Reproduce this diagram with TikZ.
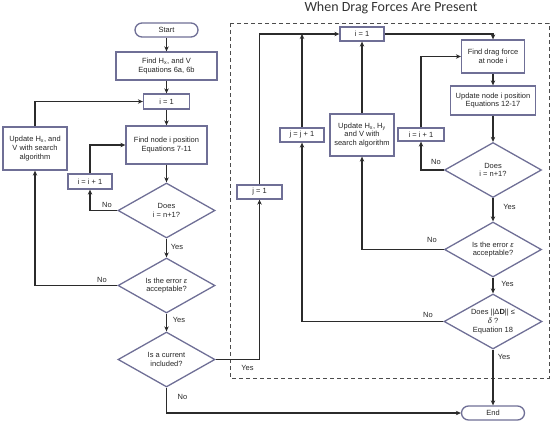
\documentclass[tikz,border=0pt]{standalone}
\usepackage{fontspec}
\setmainfont{Liberation Sans}
\newfontfamily\titlefont{Carlito}
\usetikzlibrary{shapes.geometric,arrows.meta}
\definecolor{boxc}{HTML}{6F6F96}
\definecolor{linec}{HTML}{2B2B2B}
\tikzset{
  x=1pt,y=-1pt,
  every node/.style={font=\fontsize{7.5}{8.8}\selectfont, text=black!85},
  procbox/.style={draw=boxc, line width=1.3pt, fill=white, inner sep=0pt, align=center},
  termbox/.style={draw=boxc, line width=1.3pt, fill=white, inner sep=0pt, rounded corners=7pt, minimum width=63pt, minimum height=14pt},
  dia/.style={draw=boxc, line width=1.3pt, diamond, inner sep=0pt, minimum width=97pt, minimum height=55pt},
  dtxt/.style={align=center, inner sep=0pt},
  conn/.style={draw=linec, line width=1.15pt, -{Stealth[length=5pt,width=4.5pt]}},
  lbl/.style={inner sep=0pt},
  groupbox/.style={draw=black!70, line width=0.9pt, dash pattern=on 4pt off 3pt}
}
\begin{document}
\begin{tikzpicture}
\useasboundingbox (0,0) rectangle (556,420);
% title
\node[font=\titlefont\fontsize{14}{16}\selectfont, text=black!80, anchor=base] (title) at (391,11.5) {When Drag Forces Are Present};
% dashed group
\draw[groupbox] (230,23) rectangle (549,378);

% left column
\node[termbox] (start) at (166.5,30) {Start};
\node[procbox, minimum width=101pt, minimum height=28pt] (findh) at (166.5,66) {Find H\textsubscript{x}, and V\\Equations 6a, 6b};
\node[procbox, minimum width=46pt, minimum height=15pt] (i1) at (166.5,101.5) {i = 1};
\node[procbox, minimum width=81pt, minimum height=38pt] (fnode) at (166.5,145) {Find node i position\\Equations 7-11};
\node[procbox, minimum width=64pt, minimum height=43pt] (updl) at (35,148.5) {Update H\textsubscript{x}, and\\V with search\\algorithm};
\node[procbox, minimum width=44pt, minimum height=15pt] (iil) at (90,181.5) {i = i + 1};
\node[dia] (d1) at (166.5,210.5) {};
\node[dtxt] at (d1) {Does\\i = n+1?};
\node[dia] (d2) at (166.5,285.5) {};
\node[dtxt] at (d2) {Is the error \textit{ε}\\acceptable?};
\node[dia] (d3) at (166.5,359.5) {};
\node[dtxt] at (d3) {Is a current\\included?};
\node[termbox] (end) at (493,413) {End};

% right part
\node[procbox, minimum width=45pt, minimum height=14pt] (j1) at (259.5,192) {j = 1};
\node[procbox, minimum width=44pt, minimum height=14pt] (ti1) at (362,34) {i = 1};
\node[procbox, minimum width=44pt, minimum height=14pt] (jj) at (302,135) {j = j + 1};
\node[procbox, minimum width=64pt, minimum height=42pt] (updr) at (362,135) {Update H\textsubscript{x}, H\textsubscript{y}\\and V with\\search algorithm};
\node[procbox, minimum width=46pt, minimum height=13pt] (iir) at (421,134.5) {i = i + 1};
\node[procbox, minimum width=63pt, minimum height=33pt] (fd) at (493,56.5) {Find drag force\\at node i};
\node[procbox, minimum width=85pt, minimum height=29pt] (un) at (493,100.5) {Update node i position\\Equations 12-17};
\node[dia] (dr) at (493,170) {};
\node[dtxt] at (dr) {Does\\i = n+1?};
\node[dia] (er) at (493,249.5) {};
\node[dtxt] at (er) {Is the error \textit{ε}\\acceptable?};
\node[dia, minimum width=98pt] (dd) at (493,321.5) {};
\node[dtxt] at (dd) {Does ||Δ\textbf{D}|| ≤\\\textit{δ} ?\\Equation 18};

% left connectors
\draw[conn] (start) -- (findh);
\draw[conn] (findh) -- (i1);
\draw[conn] (i1) -- (fnode);
\draw[conn] (fnode) -- (d1);
\draw[conn] (d1.west) -| (iil.south);
\draw[conn] (iil.north) |- (fnode.west);
\draw[conn] (d1) -- (d2);
\draw[conn] (d2.west) -| (updl.south);
\draw[conn] (updl.north) |- (i1.west);
\draw[conn] (d2) -- (d3);
\draw[conn] (d3.east) -| (j1.south);
\draw[conn] (d3.south) |- (end.west);

% right connectors
\draw[conn] (j1.north) |- (ti1.west);
\draw[conn] (jj.north) -- (jj.north |- ti1.west);
\draw[conn] (dd.west) -| (jj.south);
\draw[conn] (updr.north) -- (ti1.south);
\draw[conn] (er.west) -| (updr.south);
\draw[conn] (iir.north) |- (fd.west);
\draw[conn] (dr.west) -| (iir.south);
\draw[conn] (ti1.east) -| (fd.north);
\draw[conn] (fd) -- (un);
\draw[conn] (un) -- (dr);
\draw[conn] (dr) -- (er);
\draw[conn] (er) -- (dd);
\draw[conn] (dd) -- (end);

% labels
\node[lbl] (l1) at (107,205) {No};
\node[lbl] (l2) at (102,279.5) {No};
\node[lbl] (l3) at (177,247) {Yes};
\node[lbl] (l4) at (179,320) {Yes};
\node[lbl] (l5) at (247.5,368) {Yes};
\node[lbl] (l6) at (182.5,397) {No};
\node[lbl] (l7) at (436,162) {No};
\node[lbl] (l8) at (509.5,207) {Yes};
\node[lbl] (l9) at (432,240) {No};
\node[lbl] (l10) at (507.5,284) {Yes};
\node[lbl] (l11) at (428,315) {No};
\node[lbl] (l12) at (504,357) {Yes};
\end{tikzpicture}
\end{document}
